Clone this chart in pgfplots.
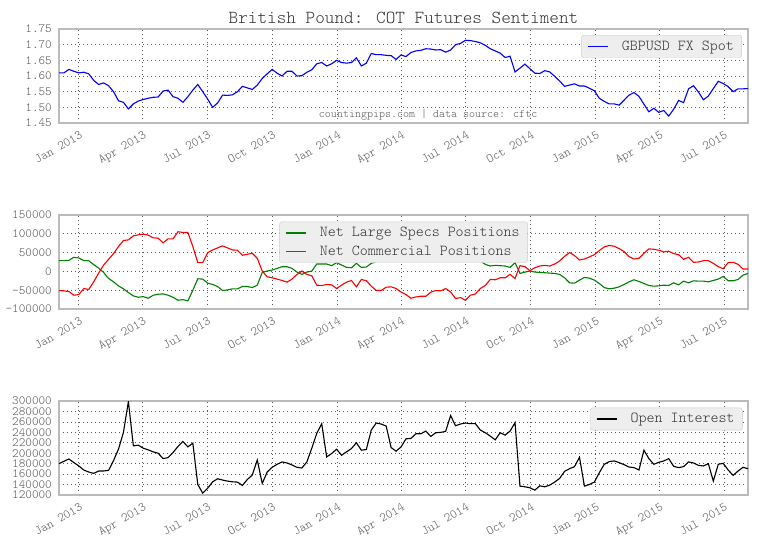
\documentclass[border=0pt]{standalone}
\usepackage{fontspec}
\setmainfont{lmmonolt10-regular}[Extension=.otf]
\usepackage{pgfplots}
\usepackage{pgfplotstable}
\pgfplotsset{compat=1.18}

\definecolor{tickgray}{HTML}{555555}
\definecolor{titlegray}{HTML}{333333}
\definecolor{framegray}{HTML}{BBBBBB}
\definecolor{legfill}{HTML}{EEEEEE}
\definecolor{legdraw}{HTML}{CCCCCC}
\definecolor{spotblue}{RGB}{0,0,255}
\definecolor{specgreen}{RGB}{0,128,0}
\definecolor{commred}{RGB}{255,0,0}

\newcommand{\ticksize}{\fontsize{11.3}{13}\selectfont}
\newcommand{\legsize}{\fontsize{13.7}{15}\selectfont}
\newcommand{\titlesize}{\fontsize{16.5}{18}\selectfont}
\newcommand{\wmsize}{\fontsize{10.3}{12}\selectfont}

% day = days since 1 Jan 2013 (weekly COT reports)
\pgfplotstableread{
day spot specs comm oi
-28 1.610 28600 -50900 180000
-21 1.610 28600 -51800 184600
-14 1.621 29500 -53600 189000
-7 1.615 37500 -63400 182000
0 1.610 35700 -61600 175600
7 1.612 28600 -45500 167800
14 1.607 28600 -48200 164000
21 1.586 17900 -27700 161400
28 1.573 8900 -4500 166000
35 1.578 -2700 17000 166000
42 1.569 -18750 32100 167200
49 1.550 -27700 47300 185900
56 1.521 -38400 66100 207700
63 1.516 -46400 82100 239900
70 1.495 -56300 83900 299000
77 1.511 -65200 94600 214100
84 1.520 -68800 97300 215400
91 1.525 -67000 99100 209600
98 1.529 -71400 96400 206400
105 1.532 -63400 89300 202600
112 1.533 -60700 88400 200000
119 1.552 -59800 75900 189700
126 1.555 -63400 86600 191600
133 1.534 -68800 86600 201300
140 1.529 -76800 105400 212900
147 1.516 -75000 103600 222500
154 1.534 -78600 103600 212200
161 1.555 -50000 66100 219300
168 1.573 -19600 23200 140200
175 1.550 -20500 23200 123500
182 1.526 -31300 50000 133100
189 1.500 -34800 57100 145300
196 1.514 -40200 62500 151100
203 1.539 -50900 67900 148600
210 1.538 -49100 62500 146600
217 1.540 -46400 57100 145300
224 1.550 -46400 56300 144700
231 1.567 -40200 42900 138300
238 1.562 -40200 45500 149800
245 1.557 -42900 48200 158200
252 1.571 -36600 34800 187100
259 1.592 -2700 900 142100
266 1.607 900 -14300 164000
273 1.621 3600 -17000 173000
280 1.609 8000 -20500 178800
287 1.600 12500 -24100 183300
294 1.615 12500 -28600 181400
301 1.615 8000 -20500 177500
308 1.600 -1800 -8000 173000
315 1.601 -8000 900 171700
322 1.612 -1800 -8000 183300
329 1.620 900 -11600 209600
336 1.639 19600 -36600 237900
343 1.643 19600 -37500 256600
350 1.632 19600 -34800 192900
357 1.639 15200 -35700 199400
364 1.650 23200 -45500 207700
371 1.643 17000 -36600 196100
378 1.641 10700 -28600 202600
385 1.643 9800 -24100 209000
392 1.658 21400 -41100 219900
399 1.632 10700 -21400 205800
406 1.641 11600 -25000 207100
413 1.672 21400 -39300 244400
420 1.668 26000 -50900 257900
427 1.668 30000 -50900 255900
434 1.666 33000 -42000 252100
441 1.665 35000 -41100 210900
448 1.653 38000 -45500 203900
455 1.667 40000 -55000 212000
462 1.662 42000 -61600 227600
469 1.675 45000 -71400 228300
476 1.680 44000 -67900 237300
483 1.682 42000 -66100 237300
490 1.687 40000 -66100 242400
497 1.686 36000 -55400 232100
504 1.683 37000 -50900 239200
511 1.684 35000 -51800 239900
518 1.676 33000 -45500 241800
525 1.683 38000 -54500 272000
532 1.700 45000 -72300 252700
539 1.704 44000 -69600 255900
546 1.714 48000 -76800 257900
553 1.713 40000 -63400 256600
560 1.710 36000 -59800 256600
567 1.706 28000 -45500 244400
574 1.698 18750 -37500 239200
581 1.687 14300 -21400 232800
588 1.680 16100 -22300 225700
595 1.673 15200 -17000 239200
602 1.659 14300 -17000 234700
609 1.663 10700 -8000 242400
616 1.613 23200 -18750 258500
623 1.625 -5400 15200 137000
630 1.638 -1800 12500 135700
637 1.623 900 1800 133800
644 1.609 -1800 9800 129300
651 1.608 -2700 14300 137600
658 1.617 -3600 16100 135700
665 1.613 -4500 14300 138900
672 1.599 -5400 19600 144700
679 1.584 -8000 27700 151800
686 1.567 -17000 40200 165300
693 1.571 -30400 50000 170400
700 1.575 -31300 42000 174300
707 1.568 -23200 30400 192300
714 1.568 -16100 33000 137000
721 1.561 -17900 38400 140200
728 1.553 -23200 44600 144700
735 1.529 -32100 55400 162700
742 1.519 -42900 65200 178800
749 1.511 -46400 68800 183900
756 1.511 -44600 67000 185200
763 1.507 -41100 60700 182000
770 1.523 -34800 52700 178100
777 1.539 -27700 39300 173600
784 1.547 -22300 33000 172400
791 1.535 -26800 34800 167800
798 1.510 -32100 48200 205800
805 1.486 -37500 59800 189700
812 1.497 -39300 58900 178800
819 1.484 -38400 56300 182600
826 1.490 -36600 51800 185200
833 1.472 -37500 53600 189700
840 1.494 -30400 47300 174900
847 1.522 -35700 44600 172400
854 1.515 -25900 32100 174300
861 1.559 -30400 37500 183300
868 1.569 -25000 24100 181400
875 1.549 -25900 25000 176800
882 1.524 -25900 28600 175600
889 1.536 -27700 28600 180000
896 1.560 -24100 21400 146600
903 1.583 -20500 12500 178800
910 1.576 -13400 7100 180700
917 1.566 -25000 23200 167800
924 1.550 -25000 24100 157600
931 1.559 -21400 18750 166000
938 1.559 -9800 6250 173000
945 1.560 -5400 6250 170400
}\cotdata

\pgfplotsset{
  cotpanel/.style={
    scale only axis, width=620.1pt, height=84.6pt,
    xmin=-28, xmax=945,
    xtick={0,90,181,273,365,455,546,638,730,820,911},
    xticklabels={Jan 2013,Apr 2013,Jul 2013,Oct 2013,Jan 2014,Apr 2014,Jul 2014,Oct 2014,Jan 2015,Apr 2015,Jul 2015},
    xticklabel style={rotate=30, anchor=north east, inner sep=0pt, yshift=-6pt, xshift=-3pt, font=\ticksize, text=tickgray},
    yticklabel style={inner sep=0pt, xshift=-6.3pt, font=\ticksize, text=tickgray,
      /pgf/number format/fixed, /pgf/number format/1000 sep={}, /pgf/number format/assume math mode=true},
    scaled y ticks=false,
    major tick length=0pt,
    grid=major,
    major grid style={black!65, line width=0.6pt, dash pattern=on 0.8pt off 2.8pt},
    axis line style={framegray, line width=1.1pt},
    legend cell align=left,
    legend image code/.code={\draw[##1, line width=1.3pt] (0pt,0pt) -- (18pt,0pt);},
    legend style={fill=legfill, draw=legdraw, rounded corners=2pt, font=\legsize,
      inner xsep=5pt, inner ysep=3pt, row sep=2.5pt,
      /tikz/every odd column/.append style={column sep=10pt}},
  },
}

\begin{document}
\begin{tikzpicture}
\useasboundingbox (-53.1pt,26.1pt) rectangle (630pt,-477pt);

% ---- GBPUSD spot ----
\begin{axis}[
  cotpanel, name=p1, at={(0pt,0pt)}, anchor=north west,
  ymin=1.45, ymax=1.75,
  ytick={1.45,1.50,1.55,1.60,1.65,1.70,1.75},
  yticklabel style={/pgf/number format/fixed zerofill, /pgf/number format/precision=2},
  legend style={at={(0.991,0.936)}, anchor=north east},
]
\addplot[spotblue, line width=1pt] table[x=day, y=spot] {\cotdata};
\addlegendentry{\textcolor{titlegray}{GBPUSD FX Spot}}
\node[anchor=south west, font=\wmsize, text=tickgray, inner sep=0pt] at (rel axis cs:0.377,0.025) {countingpips.com | data source: cftc};
\end{axis}
\node[anchor=base, font=\titlesize, text=titlegray, inner sep=0pt] at ([yshift=5.1pt]p1.north) {British Pound: COT Futures Sentiment};

% ---- net positions ----
\begin{axis}[
  cotpanel, at={(0pt,-167.4pt)}, anchor=north west,
  ymin=-100000, ymax=150000,
  ytick={-100000,-50000,0,50000,100000,150000},
  legend style={at={(0.5,0.929)}, anchor=north},
]
\addplot[specgreen, line width=1pt] table[x=day, y=specs] {\cotdata};
\addlegendentry{\textcolor{titlegray}{Net Large Specs Positions}}
\addplot[commred, line width=1pt] table[x=day, y=comm] {\cotdata};
\addlegendentry{\textcolor{titlegray}{Net Commercial Positions}}
\end{axis}

% ---- open interest ----
\begin{axis}[
  cotpanel, at={(0pt,-334.8pt)}, anchor=north west,
  ymin=120000, ymax=300000,
  ytick={120000,140000,160000,180000,200000,220000,240000,260000,280000,300000},
  legend style={at={(0.992,0.929)}, anchor=north east},
]
\addplot[black, line width=1pt] table[x=day, y=oi] {\cotdata};
\addlegendentry{\textcolor{titlegray}{Open Interest}}
\end{axis}
\end{tikzpicture}
\end{document}
